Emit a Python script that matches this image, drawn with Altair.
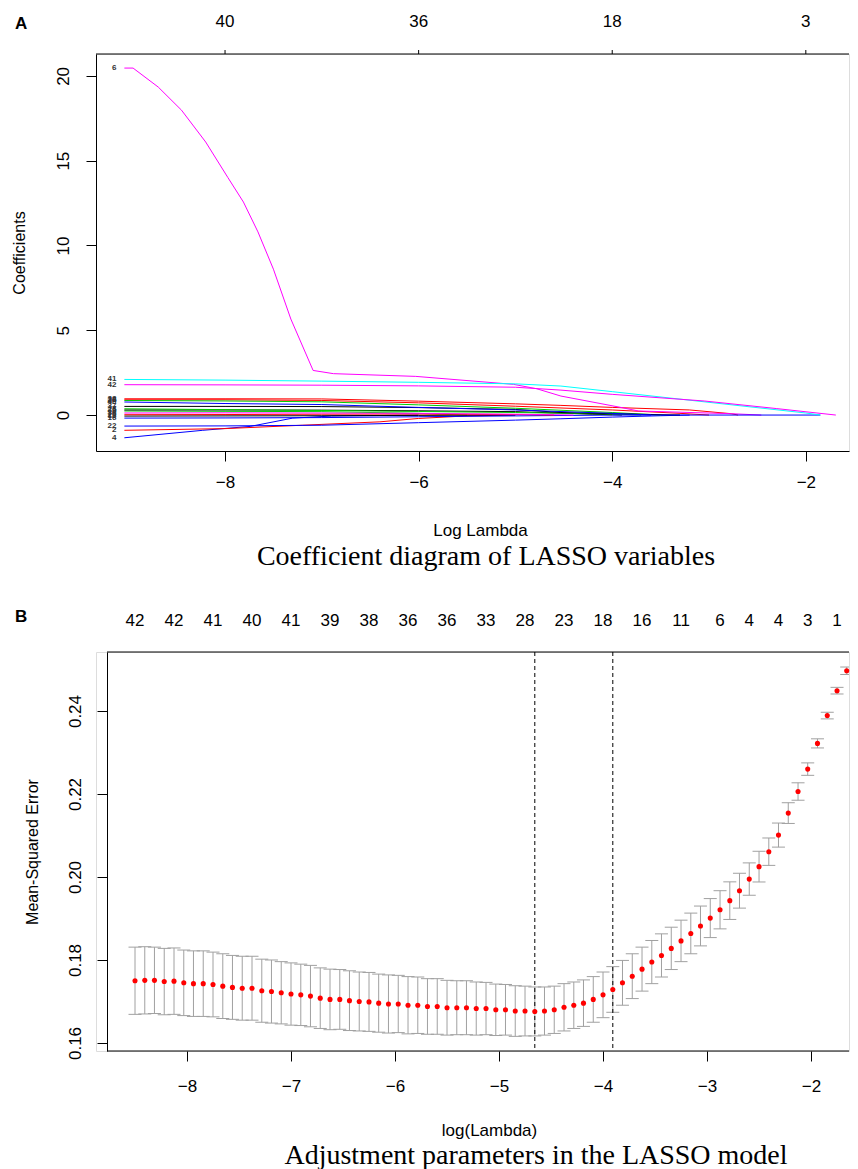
import altair as alt
import pandas as pd

# ======================= Panel A : coefficient paths =======================
A_TICK_LL = [-8, -6, -4, -2]
A_TOP_DF = ["40", "36", "18", "3"]
A_Y_TICKS = [0, 5, 10, 15, 20]

# (variable label, colour, log-lambda knots, coefficient values)
COEF_PATHS = [
    ("4", "#0000FF", [-9.04, -8.23, -7.74, -7.3, -6.9, -6.0], [-1.34, -0.90, -0.67, -0.18, -0.06, 0.0]),
    ("2", "#FF0000", [-9.04, -8.0, -7.2, -6.4, -6.0, -5.5, -5.0], [-0.90, -0.80, -0.60, -0.40, -0.20, -0.05, 0.0]),
    ("9", "#00CD00", [-9.04, -8.0, -7.0, -6.0, -5.5], [0.24, 0.22, 0.20, 0.10, 0.0]),
    ("13", "#000000", [-9.04, -8.0, -7.0, -6.0, -5.0], [-0.06, -0.05, -0.04, -0.02, 0.0]),
    ("16", "#0000FF", [-9.04, -8.0, -7.0, -6.0, -5.0, -4.0], [-0.18, -0.17, -0.15, -0.10, -0.05, 0.0]),
    ("20", "#FF0000", [-9.04, -8.0, -7.0, -6.0, -5.0, -4.6], [0.02, 0.03, 0.05, 0.06, 0.03, 0.0]),
    ("22", "#0000FF", [-9.04, -8.0, -7.0, -6.0, -5.0, -4.53, -4.0, -3.5, -3.2], [-0.65, -0.64, -0.60, -0.45, -0.30, -0.22, -0.12, -0.04, 0.0]),
    ("25", "#000000", [-9.04, -8.0, -7.0, -6.0, -5.0, -4.2, -3.9], [0.30, 0.30, 0.29, 0.25, 0.20, 0.05, 0.0]),
    ("26", "#FF0000", [-9.04, -8.0, -7.0, -6.0, -5.0, -4.0, -3.3, -3.0], [0.90, 0.90, 0.86, 0.72, 0.52, 0.30, 0.10, 0.0]),
    ("27", "#00CD00", [-9.04, -8.0, -7.0, -6.0, -5.0, -4.0, -3.7], [0.37, 0.32, 0.27, 0.21, 0.15, 0.06, 0.0]),
    ("30", "#FF00FF", [-9.04, -8.0, -7.0, -6.0, -5.0, -4.4], [0.12, 0.13, 0.12, 0.10, 0.05, 0.0]),
    ("33", "#00CD00", [-9.04, -8.0, -7.0, -6.0, -5.0, -4.0, -3.5], [0.86, 0.83, 0.78, 0.60, 0.40, 0.15, 0.0]),
    ("37", "#000000", [-9.04, -8.0, -7.0, -6.0, -5.0, -4.53, -4.0, -3.3], [0.51, 0.51, 0.50, 0.44, 0.33, 0.15, 0.08, 0.0]),
    ("38", "#FF0000", [-9.04, -8.0, -7.0, -6.0, -5.0, -4.53, -4.0, -3.2, -2.77, -2.7], [0.96, 0.96, 0.95, 0.82, 0.66, 0.57, 0.45, 0.30, 0.08, 0.0]),
    ("40", "#0000FF", [-9.04, -8.0, -7.0, -6.0, -5.0, -4.0, -3.6], [0.77, 0.68, 0.62, 0.45, 0.30, 0.10, 0.0]),
    ("6", "#FF00FF",
     [-9.04, -8.95, -8.69, -8.45, -8.20, -7.97, -7.81, -7.66, -7.50, -7.32, -7.09, -6.88, -6.03, -5.02, -4.78, -4.53, -3.93, -3.73, -2.77, -2.46],
     [20.46, 20.46, 19.34, 17.98, 16.10, 14.00, 12.56, 10.80, 8.60, 5.66, 2.63, 2.44, 2.28, 1.81, 1.55, 1.12, 0.47, 0.24, 0.08, 0.0]),
    ("28", "#0000FF", [-4.0, -1.85], [0.0, 0.0]),
    ("41", "#00FFFF", [-9.04, -8.0, -7.0, -6.0, -5.0, -4.53, -4.0, -3.0, -2.0, -1.85], [2.10, 2.06, 2.00, 1.93, 1.84, 1.71, 1.38, 0.75, 0.12, 0.0]),
    ("42", "#FF00FF", [-9.04, -8.0, -7.0, -6.0, -5.0, -4.53, -4.0, -3.05, -2.3, -1.69], [1.79, 1.78, 1.76, 1.72, 1.64, 1.47, 1.22, 0.83, 0.38, 0.0]),
]

# ======================= Panel B : cross-validation curve =======================
LOG_LAMBDA = [
    -8.500, -8.406, -8.313, -8.219, -8.125, -8.031, -7.938, -7.844, -7.750, -7.656,
    -7.563, -7.469, -7.375, -7.281, -7.188, -7.094, -7.000, -6.906, -6.813, -6.719,
    -6.625, -6.531, -6.438, -6.344, -6.250, -6.157, -6.063, -5.969, -5.875, -5.781,
    -5.688, -5.594, -5.500, -5.406, -5.313, -5.219, -5.125, -5.031, -4.938, -4.844,
    -4.750, -4.656, -4.563, -4.469, -4.375, -4.281, -4.188, -4.094, -4.000, -3.906,
    -3.813, -3.719, -3.625, -3.531, -3.438, -3.344, -3.250, -3.156, -3.063, -2.969,
    -2.875, -2.781, -2.688, -2.594, -2.500, -2.406, -2.313, -2.219, -2.125, -2.032,
    -1.938, -1.844, -1.750, -1.657,
]
CV_MEAN = [
    0.1750, 0.1751, 0.1751, 0.1748, 0.1749, 0.1745, 0.1743, 0.1743, 0.1741, 0.1737,
    0.1734, 0.1732, 0.1732, 0.1726, 0.1724, 0.1721, 0.1718, 0.1716, 0.1713, 0.1708,
    0.1705, 0.1705, 0.1702, 0.1700, 0.1699, 0.1696, 0.1694, 0.1694, 0.1691, 0.1691,
    0.1688, 0.1688, 0.1685, 0.1685, 0.1685, 0.1683, 0.1683, 0.1680, 0.1680, 0.1677,
    0.1677, 0.1676, 0.1677, 0.1680, 0.1686, 0.1691, 0.1696, 0.1705, 0.1716, 0.1729,
    0.1745, 0.1761, 0.1778, 0.1795, 0.1811, 0.1828, 0.1846, 0.1864, 0.1882, 0.1901,
    0.1921, 0.1943, 0.1967, 0.1995, 0.2025, 0.2061, 0.2101, 0.2154, 0.2206, 0.2260,
    0.2322, 0.2389, 0.2449, 0.2497,
]
CV_SE = [
    0.0081, 0.0081, 0.0080, 0.0080, 0.0080, 0.0079, 0.0079, 0.0079, 0.0078, 0.0078,
    0.0077, 0.0077, 0.0077, 0.0076, 0.0076, 0.0075, 0.0075, 0.0074, 0.0074, 0.0073,
    0.0073, 0.0072, 0.0072, 0.0071, 0.0071, 0.0070, 0.0070, 0.0069, 0.0069, 0.0068,
    0.0067, 0.0067, 0.0066, 0.0065, 0.0065, 0.0064, 0.0063, 0.0062, 0.0061, 0.0061,
    0.0060, 0.0059, 0.0058, 0.0057, 0.0057, 0.0056, 0.0056, 0.0055, 0.0055, 0.0055,
    0.0054, 0.0054, 0.0053, 0.0052, 0.0052, 0.0051, 0.0050, 0.0049, 0.0048, 0.0047,
    0.0046, 0.00453, 0.0042, 0.0039, 0.0037, 0.0033, 0.0029, 0.0025, 0.0021, 0.0015,
    0.0011, 0.0008, 0.0008, 0.0009,
]
DF_AT = [0, 4, 8, 12, 16, 20, 24, 28, 32, 36, 40, 44, 48, 52, 56, 60, 63, 66, 69, 72]
DF_LABELS = ["42", "42", "41", "40", "41", "39", "38", "36", "36", "33",
             "28", "23", "18", "16", "11", "6", "4", "4", "3", "1"]
CUT_LL = [-4.656, -3.906]
B_X_TICKS = [-8, -7, -6, -5, -4, -3, -2]
B_Y_TICKS = [0.16, 0.18, 0.20, 0.22, 0.24]

# ======================= layout / style =======================
SANS = "Liberation Sans"
SERIF = "Liberation Serif"
GREY = "#A0A0A0"
A_W, A_H = 753, 397
B_W, B_H = 753, 399
B_SHIFT = 11

rows = []
for order, (lab, col, lls, cs) in enumerate(COEF_PATHS):
    for i, (l, c) in enumerate(zip(lls, cs)):
        rows.append({"var": lab, "col": col, "ll": l, "coef": c, "grp": order, "i": i})
lines_df = pd.DataFrame(rows)
start_df = lines_df[(lines_df["i"] == 0) & (lines_df["ll"] < -9)]


def x_axis(values, title, tx, pad, domain):
    return alt.Axis(values=values, title=title, domain=domain, domainColor="black", domainWidth=1,
                    tickColor="black", tickSize=10, tickWidth=1,
                    labelFont=SANS, labelFontSize=17, labelColor="black", labelPadding=pad,
                    labelBaseline="middle", labelFlush=False, labelOverlap=False, grid=False,
                    titleFont=SANS, titleFontSize=17, titleFontWeight="normal", titleColor="black",
                    titleX=tx, titleY=79, titleAlign="center", titleBaseline="middle")


def y_axis(values, title, tx, h, pad, fmt, offset):
    return alt.Axis(values=values, title=title, format=fmt, offset=offset, domainColor="black",
                    domainWidth=1, tickColor="black", tickSize=10, tickWidth=1,
                    labelFont=SANS, labelFontSize=17, labelColor="black", labelPadding=pad,
                    labelAngle=270, labelAlign="center", labelBaseline="middle",
                    labelOverlap=False, labelFlush=False, grid=False,
                    titleFont=SANS, titleFontSize=16, titleFontWeight="normal", titleColor="black",
                    titleAngle=270, titleX=tx, titleY=h / 2, titleAlign="center", titleBaseline="middle")


# ---------------- Panel A ----------------
xA = alt.X("ll:Q", scale=alt.Scale(domain=[-9.333, -1.554], nice=False, zero=False),
           axis=x_axis(A_TICK_LL, "Log Lambda", 384, 21, True))
yA = alt.Y("coef:Q", scale=alt.Scale(domain=[-2.12, 21.29], nice=False, zero=False),
           axis=y_axis(A_Y_TICKS, "Coefficients", -77, A_H, 23, "d", 0))

a_lines = alt.Chart(lines_df).mark_line(strokeWidth=1).encode(
    x=xA, y=yA, detail="grp:N", color=alt.Color("col:N", scale=None), order="i:Q")
a_labels = alt.Chart(start_df).mark_text(align="right", baseline="middle", dx=-8, fontSize=8,
                                         fontWeight="bold", color="#333333", font=SANS).encode(
    x=xA, y=yA, text="var:N")
top_df = pd.DataFrame({"ll": A_TICK_LL, "lab": A_TOP_DF})
a_topticks = alt.Chart(top_df).mark_rule(color="black", strokeWidth=1).encode(
    x=xA, y=alt.value(-4), y2=alt.value(0))
a_toptext = alt.Chart(top_df).mark_text(font=SANS, fontSize=17, baseline="middle", color="black").encode(
    x=xA, y=alt.value(-32), text="lab:N")
a_frame = alt.Chart(pd.DataFrame({"z": [0]})).mark_rule(color="black", strokeWidth=1).encode(
    x=alt.value(0), x2=alt.value(A_W), y=alt.value(0))
a_letter = alt.Chart(pd.DataFrame({"t": ["A"]})).mark_text(
    font=SANS, fontSize=17, fontWeight="bold", align="left", baseline="middle", color="black").encode(
    x=alt.value(-81), y=alt.value(-30), text="t:N")
a_caption = alt.Chart(pd.DataFrame({"t": ["Coefficient diagram of LASSO variables"]})).mark_text(
    font=SERIF, fontSize=28, align="center", baseline="middle", color="black").encode(
    x=alt.value(390), y=alt.value(503), text="t:N")

panel_a = alt.layer(a_lines, a_labels, a_topticks, a_toptext, a_frame, a_letter, a_caption).properties(
    width=A_W, height=A_H)

# ---------------- Panel B ----------------
cv_df = pd.DataFrame({"ll": LOG_LAMBDA, "cvm": CV_MEAN, "se": CV_SE})
cv_df["lo"] = cv_df["cvm"] - cv_df["se"]
cv_df["hi"] = cv_df["cvm"] + cv_df["se"]

xB = alt.X("ll:Q", scale=alt.Scale(domain=[-8.875, -1.635], nice=False, zero=False),
           axis=x_axis(B_X_TICKS, "log(Lambda)", 393, 25, False))
yB_scale = alt.Scale(domain=[0.15807, 0.25422], nice=False, zero=False)
yB_axis = y_axis(B_Y_TICKS, "Mean-Squared Error", -75, B_H, 22, ".2f", -B_SHIFT)

b_err = alt.Chart(cv_df).mark_rule(color=GREY, strokeWidth=1).encode(
    x=xB, y=alt.Y("lo:Q", scale=yB_scale, axis=yB_axis), y2="hi:Q")
b_cap_hi = alt.Chart(cv_df).mark_point(shape="stroke", size=169, filled=False, color=GREY,
                                       strokeWidth=1, opacity=1, clip=True).encode(
    x=xB, y=alt.Y("hi:Q", scale=yB_scale, axis=yB_axis))
b_cap_lo = alt.Chart(cv_df).mark_point(shape="stroke", size=169, filled=False, color=GREY,
                                       strokeWidth=1, opacity=1, clip=True).encode(
    x=xB, y=alt.Y("lo:Q", scale=yB_scale, axis=yB_axis))
b_pts = alt.Chart(cv_df).mark_circle(size=26, color="#FF0000", opacity=1).encode(
    x=xB, y=alt.Y("cvm:Q", scale=yB_scale, axis=yB_axis))
b_cut = alt.Chart(pd.DataFrame({"ll": CUT_LL})).mark_rule(
    color="black", strokeWidth=1, strokeDash=[4, 3]).encode(x=xB)
b_frame_top = alt.Chart(pd.DataFrame({"z": [0]})).mark_rule(color="black", strokeWidth=1).encode(
    x=alt.value(B_SHIFT), x2=alt.value(B_W), y=alt.value(0))
b_frame_bot = alt.Chart(pd.DataFrame({"z": [0]})).mark_rule(color="black", strokeWidth=1).encode(
    x=alt.value(B_SHIFT), x2=alt.value(B_W), y=alt.value(B_H))
df_top = pd.DataFrame({"ll": [LOG_LAMBDA[i] for i in DF_AT], "lab": DF_LABELS})
b_toptext = alt.Chart(df_top).mark_text(font=SANS, fontSize=17, baseline="middle", color="black").encode(
    x=xB, y=alt.value(-31), text="lab:N")
b_letter = alt.Chart(pd.DataFrame({"t": ["B"]})).mark_text(
    font=SANS, fontSize=17, fontWeight="bold", align="left", baseline="middle", color="black").encode(
    x=alt.value(-81), y=alt.value(-35), text="t:N")
b_caption = alt.Chart(pd.DataFrame({"t": ["Adjustment parameters in the LASSO model"]})).mark_text(
    font=SERIF, fontSize=28, align="center", baseline="middle", color="black").encode(
    x=alt.value(440), y=alt.value(504), text="t:N")

panel_b = alt.layer(b_err, b_cap_hi, b_cap_lo, b_cut, b_pts, b_frame_top, b_frame_bot,
                    b_toptext, b_letter, b_caption).properties(width=B_W, height=B_H)

chart = alt.vconcat(panel_a, panel_b, spacing=35).properties(
    padding={"left": 2, "top": 4, "right": 0, "bottom": 0}
).configure_view(strokeWidth=0).configure(background="white")

chart.save("out.html", embed_options={"renderer": "svg", "actions": False})
